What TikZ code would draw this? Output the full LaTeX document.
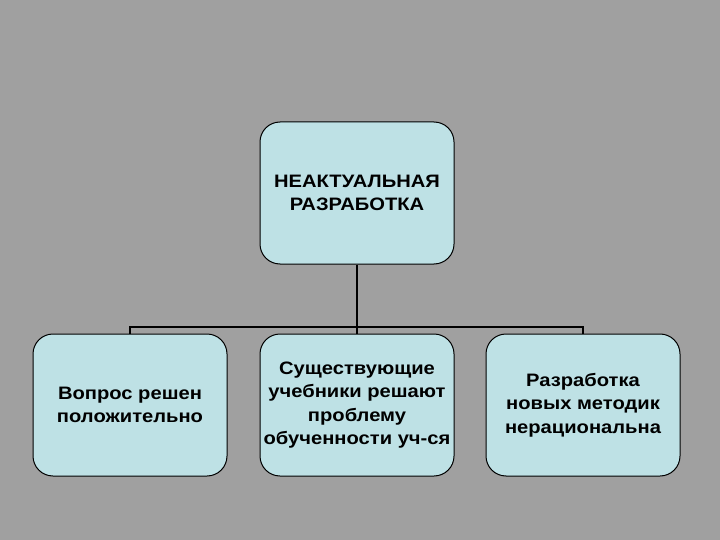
\documentclass[tikz,border=0pt]{standalone}
\usepackage{fontspec}
\setmainfont{Liberation Sans}[FakeStretch=1.12]
\definecolor{bg}{RGB}{160,160,160}
\definecolor{boxfill}{RGB}{190,225,229}
\begin{document}
\begin{tikzpicture}[x=1pt,y=-1pt,
  box/.style={draw=black,line width=1pt,fill=boxfill,rounded corners=20pt,
    minimum width=194pt,minimum height=142pt,inner sep=0pt,align=center,
    font=\fontsize{18}{23.5}\selectfont\bfseries},
  conn/.style={line width=2.5pt,black}]
\fill[bg] (0,0) rectangle (720,540);
\useasboundingbox (0,0) rectangle (720,540);
\node[box] (top) at (357,193) {НЕАКТУАЛЬНАЯ\\РАЗРАБОТКА};
\node[box] (l) at (130,405) {Вопрос решен\\положительно};
\node[box] (m) at (357,405) {Существующие\\учебники решают\\проблему\\обученности уч-ся};
\node[box] (r) at (583,405) {Разработка\\новых методик\\нерациональна};
\coordinate (j) at (357,327);
\draw[conn] (top.south) -- (m.north);
\draw[conn] (l.north) -- (l.north|-j) -- (r.north|-j) -- (r.north);
\end{tikzpicture}
\end{document}
